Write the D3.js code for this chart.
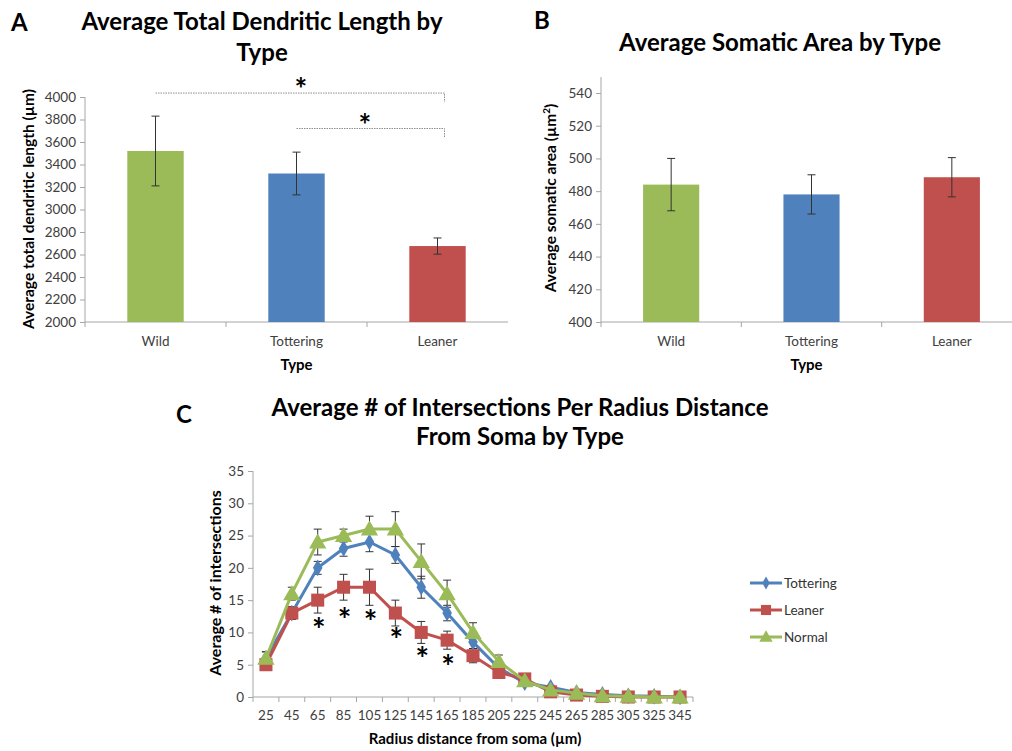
<!DOCTYPE html>
<html>
<head>
<meta charset="utf-8">
<script src="https://cdn.jsdelivr.net/npm/d3@7"></script>
<style>
  body { margin: 0; background: #fff; }
  svg { font-family: Lato, "Open Sans", sans-serif; }
</style>
</head>
<body>
<div id="chart"></div>
<script>
// data
var types = ["Wild", "Tottering", "Leaner"];
var typeColors = ["#9BBB59", "#4F81BD", "#C0504D"];

var lengthMean = [3520, 3320, 2675];
var lengthErr = [310, 190, 72];
var lengthTicks = [2000, 2200, 2400, 2600, 2800, 3000, 3200, 3400, 3600, 3800, 4000];

var areaMean = [484, 478, 488.5];
var areaErr = [16, 12, 12];
var areaTicks = [400, 420, 440, 460, 480, 500, 520, 540];

var radius = [25, 45, 65, 85, 105, 125, 145, 165, 185, 205, 225, 245, 265, 285, 305, 325, 345];
var tottering = [6, 13, 20, 23, 24, 22, 17, 13, 8.5, 4.5, 2.2, 1.5, 0.7, 0.4, 0.2, 0.1, 0];
var totteringErr = [1, 1, 1, 1.2, 1.5, 1.3, 1.7, 1.2, 1, 0.8, 0.5, 0.3, 0.2, 0.1, 0.1, 0, 0];
var leaner = [5, 13, 15, 17, 17, 13, 10, 8.8, 6.4, 3.8, 2.8, 0.8, 0.3, 0.1, 0, 0, 0];
var leanerErr = [0.6, 1, 2, 2, 2.8, 2, 1.7, 1.4, 1.1, 0.6, 0.4, 0.3, 0.2, 0.1, 0, 0, 0];
var normal = [6, 16, 24, 25, 26, 26, 21, 16, 10, 5.5, 2.5, 1.1, 0.6, 0.2, 0.1, 0, 0];
var normalErr = [1, 1, 2, 1, 2, 2.7, 2.7, 2.1, 1.5, 1, 0.5, 0.3, 0.2, 0.1, 0.1, 0, 0];
var starRadius = [65, 85, 105, 125, 145, 165];
var starLevel = [11.5, 13, 12.7, 9.9, 7, 5.7];

var width = 1012, height = 751;
var svg = d3.select("#chart").append("svg")
    .attr("width", width)
    .attr("height", height);

var axisColor = "#a6a6a6";
var tickText = "#404040";

function panelLetter(t, x, y) {
    svg.append("text").attr("x", x).attr("y", y)
        .attr("font-size", 24).attr("font-weight", "bold").text(t);
}

// ---------- bar panel helper ----------
function barPanel(o) {
    var x = d3.scaleBand().domain(types).range([o.left, o.right]);
    var y = d3.scaleLinear().domain(o.domain).range([o.bottom, o.top]);
    var g = svg.append("g");

    // y axis
    var ya = g.append("g").attr("transform", "translate(" + o.left + ",0)")
        .call(d3.axisLeft(y).tickValues(o.ticks).tickFormat(d3.format("d")).tickSize(5).tickPadding(4));
    ya.select(".domain").remove();
    g.append("line").attr("x1", o.left).attr("x2", o.left)
        .attr("y1", o.axisTop).attr("y2", o.bottom + 5)
        .attr("stroke", axisColor);
    // x axis
    g.append("line").attr("x1", o.left).attr("x2", o.right)
        .attr("y1", o.bottom).attr("y2", o.bottom).attr("stroke", axisColor);
    g.selectAll(".xt").data(types.slice(1)).enter().append("line")
        .attr("x1", function (d) { return x(d); })
        .attr("x2", function (d) { return x(d); })
        .attr("y1", o.bottom).attr("y2", o.bottom + 5).attr("stroke", axisColor);
    ya.selectAll("line").attr("stroke", axisColor).attr("x2", -5);
    ya.selectAll("text").attr("font-size", 13.5).attr("fill", tickText)
        .attr("font-family", "Lato, sans-serif");

    g.selectAll(".xl").data(types).enter().append("text")
        .attr("x", function (d) { return x(d) + x.bandwidth() / 2; })
        .attr("y", o.bottom + 24)
        .attr("text-anchor", "middle").attr("font-size", 13.5).attr("fill", tickText)
        .text(function (d) { return d; });

    var bw = x.bandwidth() * 0.4;
    g.selectAll(".bar").data(o.mean).enter().append("rect")
        .attr("x", function (d, i) { return x(types[i]) + (x.bandwidth() - bw) / 2; })
        .attr("width", bw)
        .attr("y", function (d) { return y(d); })
        .attr("height", function (d) { return o.bottom - y(d); })
        .attr("fill", function (d, i) { return typeColors[i]; });

    // error bars
    o.mean.forEach(function (m, i) {
        var cx = x(types[i]) + x.bandwidth() / 2;
        var y1 = y(m - o.err[i]), y2 = y(m + o.err[i]);
        g.append("line").attr("x1", cx).attr("x2", cx).attr("y1", y1).attr("y2", y2)
            .attr("stroke", "#333").attr("stroke-width", 1);
        [y1, y2].forEach(function (yy) {
            g.append("line").attr("x1", cx - 4).attr("x2", cx + 4).attr("y1", yy).attr("y2", yy)
                .attr("stroke", "#333").attr("stroke-width", 1);
        });
    });

    // axis titles
    g.append("text").attr("x", (o.left + o.right) / 2 + o.typeShift).attr("y", o.bottom + 48)
        .attr("text-anchor", "middle").attr("font-size", 15).attr("font-weight", "bold")
        .text("Type");
    var yl = g.append("text")
        .attr("transform", "translate(" + o.ylx + "," + o.yly + ") rotate(-90)")
        .attr("text-anchor", "middle").attr("font-size", o.ylSize).attr("font-weight", "bold");
    o.ylabel(yl);

    return { x: x, y: y, g: g };
}

// ---------- A ----------
panelLetter("A", 11, 31);
svg.append("text").attr("x", 262).attr("y", 30).attr("text-anchor", "middle")
    .attr("font-size", 24).attr("font-weight", "bold").text("Average Total Dendritic Length by");
svg.append("text").attr("x", 262).attr("y", 61).attr("text-anchor", "middle")
    .attr("font-size", 24).attr("font-weight", "bold").text("Type");

var A = barPanel({
    left: 85, right: 508, top: 97, bottom: 322, axisTop: 97,
    domain: [2000, 4000], ticks: lengthTicks,
    mean: lengthMean, err: lengthErr, typeShift: 0,
    ylx: 34, yly: 209, ylSize: 15.5,
    ylabel: function (t) { t.text("Average total dendritic length (µm)"); }
});

// significance brackets
function bracket(p, from, to, yv, drop, starX) {
    var x1 = A.x(types[from]) + A.x.bandwidth() / 2;
    var x2 = A.x(types[to]) + A.x.bandwidth() / 2 + 7;
    var yy = A.y(yv);
    A.g.append("path")
        .attr("d", "M" + x1 + "," + yy + "H" + x2 + "V" + (yy + drop))
        .attr("fill", "none").attr("stroke", "#8c8c8c").attr("stroke-width", 1)
        .attr("stroke-dasharray", "1.5,1");
    A.g.append("text").attr("x", starX).attr("y", yy + 7).attr("text-anchor", "middle")
        .attr("font-size", 30).attr("font-weight", "bold").text("*");
}
bracket(A, 0, 2, 4035, 9, 301);
bracket(A, 1, 2, 3720, 9, 365);

// ---------- B ----------
panelLetter("B", 534, 29);
svg.append("text").attr("x", 780).attr("y", 51).attr("text-anchor", "middle")
    .attr("font-size", 24).attr("font-weight", "bold").text("Average Somatic Area by Type");

barPanel({
    left: 601, right: 1022, top: 93, bottom: 322, axisTop: 77,
    domain: [400, 540], ticks: areaTicks,
    mean: areaMean, err: areaErr, typeShift: -5,
    ylx: 556, yly: 198, ylSize: 15.5,
    ylabel: function (t) {
        t.append("tspan").text("Average somatic area (µm");
        t.append("tspan").attr("baseline-shift", "super").attr("font-size", 10).text("2");
        t.append("tspan").text(")");
    }
});

// ---------- C ----------
panelLetter("C", 176, 423);
svg.append("text").attr("x", 520).attr("y", 416).attr("text-anchor", "middle")
    .attr("font-size", 24).attr("font-weight", "bold").text("Average # of Intersections Per Radius Distance");
svg.append("text").attr("x", 520).attr("y", 445).attr("text-anchor", "middle")
    .attr("font-size", 24).attr("font-weight", "bold").text("From Soma by Type");

var cLeft = 253, cRight = 693, cTop = 471, cBottom = 697;
var xc = d3.scaleBand().domain(radius).range([cLeft, cRight]);
var yc = d3.scaleLinear().domain([0, 35]).range([cBottom, cTop]);
var gc = svg.append("g");

var yca = gc.append("g").attr("transform", "translate(" + cLeft + ",0)")
    .call(d3.axisLeft(yc).tickValues([0, 5, 10, 15, 20, 25, 30, 35]).tickSize(5).tickPadding(4));
yca.select(".domain").remove();
yca.selectAll("line").attr("stroke", axisColor);
yca.selectAll("text").attr("font-size", 13.5).attr("fill", tickText).attr("font-family", "Lato, sans-serif");
gc.append("line").attr("x1", cLeft).attr("x2", cLeft).attr("y1", cTop).attr("y2", cBottom + 5)
    .attr("stroke", axisColor);
gc.append("line").attr("x1", cLeft).attr("x2", cRight).attr("y1", cBottom).attr("y2", cBottom)
    .attr("stroke", axisColor);
gc.selectAll(".xt").data(radius).enter().append("line")
    .attr("x1", function (d, i) { return cLeft + xc.step() * (i + 1); })
    .attr("x2", function (d, i) { return cLeft + xc.step() * (i + 1); })
    .attr("y1", cBottom).attr("y2", cBottom + 5).attr("stroke", axisColor);
gc.selectAll(".xl").data(radius).enter().append("text")
    .attr("x", function (d) { return xc(d) + xc.bandwidth() / 2; })
    .attr("y", cBottom + 23).attr("text-anchor", "middle")
    .attr("font-size", 13.5).attr("fill", tickText).text(function (d) { return d; });

gc.append("text").attr("x", 475).attr("y", 744).attr("text-anchor", "middle")
    .attr("font-size", 15).attr("font-weight", "bold").text("Radius distance from soma (µm)");
gc.append("text").attr("transform", "translate(221,583) rotate(-90)")
    .attr("text-anchor", "middle").attr("font-size", 16).attr("font-weight", "bold")
    .text("Average # of intersections");

var cx = function (i) { return xc(radius[i]) + xc.bandwidth() / 2; };
var series = [
    { name: "Tottering", vals: tottering, err: totteringErr, color: "#4F81BD", sym: d3.symbolDiamond, size: 80 },
    { name: "Leaner", vals: leaner, err: leanerErr, color: "#C0504D", sym: d3.symbolSquare, size: 170 },
    { name: "Normal", vals: normal, err: normalErr, color: "#9BBB59", sym: d3.symbolTriangle, size: 130 }
];

// error bars first
series.forEach(function (s) {
    s.vals.forEach(function (v, i) {
        if (!s.err[i]) return;
        var y1 = yc(v - s.err[i]), y2 = yc(v + s.err[i]);
        gc.append("line").attr("x1", cx(i)).attr("x2", cx(i)).attr("y1", y1).attr("y2", y2)
            .attr("stroke", "#333");
        [y1, y2].forEach(function (yy) {
            gc.append("line").attr("x1", cx(i) - 4).attr("x2", cx(i) + 4).attr("y1", yy).attr("y2", yy)
                .attr("stroke", "#333");
        });
    });
});

var line = d3.line().x(function (d, i) { return cx(i); }).y(function (d) { return yc(d); });
series.forEach(function (s) {
    gc.append("path").datum(s.vals).attr("d", line)
        .attr("fill", "none").attr("stroke", s.color).attr("stroke-width", 3);
    gc.selectAll(null).data(s.vals).enter().append("path")
        .attr("d", d3.symbol().type(s.sym).size(s.size))
        .attr("transform", function (d, i) {
            var dy = s.sym === d3.symbolTriangle ? 1.5 : 0;
            return "translate(" + cx(i) + "," + (yc(d) + dy) + ")";
        })
        .attr("fill", s.color);
});

// stars
gc.selectAll(".star").data(starRadius).enter().append("text")
    .attr("x", function (d) { return xc(d) + xc.bandwidth() / 2 + 1; })
    .attr("y", function (d, i) { return yc(starLevel[i]) + 19; })
    .attr("text-anchor", "middle").attr("font-size", 32).attr("font-weight", "bold")
    .text("*");

// legend
var lg = svg.append("g").attr("transform", "translate(750,583)");
series.forEach(function (s, i) {
    var row = lg.append("g").attr("transform", "translate(0," + i * 27 + ")");
    row.append("line").attr("x1", 0).attr("x2", 32).attr("y1", 0).attr("y2", 0)
        .attr("stroke", s.color).attr("stroke-width", 3);
    row.append("path").attr("d", d3.symbol().type(s.sym).size(s.size * 0.6))
        .attr("transform", "translate(16," + (s.sym === d3.symbolTriangle ? 1 : 0) + ")")
        .attr("fill", s.color);
    row.append("text").attr("x", 34).attr("y", 5).attr("font-size", 13.5).attr("fill", "#333")
        .text(s.name);
});
</script>
</body>
</html>
